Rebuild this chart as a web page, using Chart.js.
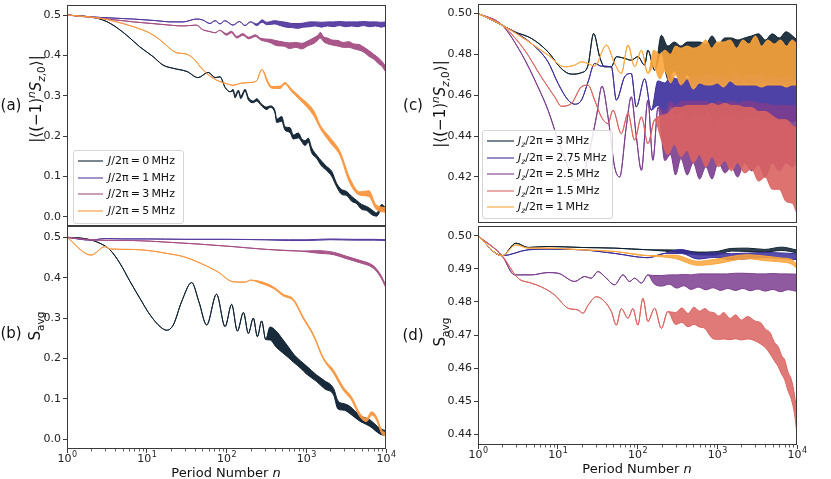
<!DOCTYPE html>
<html>
<head>
<meta charset="utf-8">
<script src="https://cdn.jsdelivr.net/npm/chart.js@4.4.1/dist/chart.umd.min.js"></script>
<style>
  body { margin: 0; background: #fff; }
  #fig { position: relative; width: 831px; height: 479px; overflow: hidden; font-family: 'DejaVu Sans', sans-serif; color: #111; }
  .panel { position: absolute; }
  .txt { position: absolute; white-space: nowrap; transform: translate(-50%, -50%); line-height: 1; }
  .rot { transform: translate(-50%, -50%) rotate(-90deg); }
  .plab { font-size: 15px; }
  .ytitle { font-size: 15px; }
  .xtitle { font-size: 13px; }
  sub, sup { font-size: 70%; line-height: 0; }
  .legend { position: absolute; border: 1px solid #d6d6d6; border-radius: 3px; background: rgba(255,255,255,0.85); font-size: 11px; }
  .legend .row { position: absolute; left: 0; height: 14px; line-height: 14px; white-space: nowrap; }
  .legend .ln { position: absolute; top: 6px; height: 0; border-top: 2px solid; }
  .legend .lt { position: absolute; top: 0; }
</style>
</head>
<body>
<div id="fig">
  <div class="panel" style="left:0px;top:0px"><canvas id="ca" width="400" height="236"></canvas></div>
  <div class="panel" style="left:0px;top:220px"><canvas id="cb" width="400" height="259"></canvas></div>
  <div class="panel" style="left:411px;top:0px"><canvas id="cc" width="400" height="230"></canvas></div>
  <div class="panel" style="left:411px;top:220px"><canvas id="cd" width="400" height="259"></canvas></div>

  <div class="txt plab" style="left:11px;top:105px">(a)</div>
  <div class="txt plab" style="left:11px;top:333px">(b)</div>
  <div class="txt plab" style="left:413px;top:105px">(c)</div>
  <div class="txt plab" style="left:413px;top:335px">(d)</div>

  <div class="txt rot ytitle" style="left:36px;top:99px">|⟨(−1)<sup><i>n</i></sup><i>S</i><sub><i>z</i>,0</sub>⟩|</div>
  <div class="txt rot ytitle" style="left:35px;top:326px">S<sub>avg</sub></div>
  <div class="txt rot ytitle" style="left:440px;top:104px">|⟨(−1)<sup><i>n</i></sup><i>S</i><sub><i>z</i>,0</sub>⟩|</div>
  <div class="txt rot ytitle" style="left:440px;top:332px">S<sub>avg</sub></div>

  <div class="txt xtitle" style="left:226px;top:472px">Period Number <i>n</i></div>
  <div class="txt xtitle" style="left:637px;top:468px">Period Number <i>n</i></div>

  <div class="legend" id="lega" style="left:73px;top:150px;width:109px;height:72px"></div>
  <div class="legend" id="legc" style="left:482px;top:130px;width:129px;height:87px"></div>
</div>
<script>
// ---- panel (a): staggered magnetization, J/2pi = 0, 1, 3, 5 MHz
// n = period number, y = value, w = half-width of the noisy band
const aJ0n = [1, 2.4, 3.5, 5.6, 8.2, 12, 16, 21.5, 32, 44, 59, 72, 83, 96, 111, 121, 128, 141, 151, 171, 188, 217, 239, 276, 319, 351, 406, 426, 492, 542, 626, 689, 796, 877, 964, 1062, 1170, 1352, 1561, 1804, 2084, 2407, 2781, 3213, 3710, 4287, 4953, 5722, 6610, 7637, 8822, 10000];
const aJ0y = [0.5, 0.492, 0.479, 0.45, 0.421, 0.397, 0.376, 0.368, 0.36, 0.345, 0.358, 0.345, 0.347, 0.321, 0.31, 0.314, 0.298, 0.312, 0.296, 0.314, 0.293, 0.285, 0.29, 0.277, 0.269, 0.273, 0.26, 0.238, 0.243, 0.219, 0.215, 0.198, 0.202, 0.19, 0.183, 0.19, 0.165, 0.149, 0.132, 0.12, 0.107, 0.079, 0.062, 0.058, 0.045, 0.037, 0.025, 0.021, 0.012, 0.006, 0.025, 0.016];
const aJ0w = [0, 0, 0, 0, 0, 0, 0, 0, 0, 0, 0, 0, 0, 0, 0, 0.002, 0.003, 0.002, 0.003, 0.002, 0.003, 0.002, 0.003, 0.002, 0.003, 0.002, 0.003, 0.004, 0.006, 0.004, 0.006, 0.005, 0.006, 0.004, 0.006, 0.005, 0.006, 0.004, 0.006, 0.005, 0.006, 0.004, 0.006, 0.005, 0.006, 0.004, 0.006, 0.005, 0.006, 0.004, 0.006, 0.005];

const aJ1n = [1, 2.6, 6.8, 13.3, 19.5, 28.7, 42, 50, 62, 72, 83, 95, 121, 145, 170, 200, 240, 280, 320, 400, 470, 560, 660, 780, 920, 1100, 1300, 1550, 1850, 2200, 2600, 3100, 3700, 4400, 5200, 6200, 7400, 8700, 10000];
const aJ1y = [0.5, 0.494, 0.49, 0.486, 0.483, 0.483, 0.49, 0.488, 0.479, 0.486, 0.478, 0.486, 0.475, 0.484, 0.474, 0.483, 0.476, 0.485, 0.479, 0.482, 0.479, 0.476, 0.474, 0.473, 0.475, 0.477, 0.478, 0.476, 0.478, 0.477, 0.479, 0.477, 0.478, 0.477, 0.479, 0.477, 0.478, 0.476, 0.478];
const aJ1w = [0, 0, 0, 0, 0, 0, 0, 0, 0, 0, 0, 0, 0, 0, 0, 0, 0.002, 0.003, 0.003, 0.004, 0.005, 0.006, 0.005, 0.006, 0.005, 0.006, 0.005, 0.006, 0.005, 0.006, 0.005, 0.006, 0.005, 0.006, 0.005, 0.006, 0.005, 0.006, 0.005];

const aJ3n = [1, 2.6, 6.8, 15, 28.7, 42, 50, 62, 72, 82, 100, 115, 135, 160, 190, 230, 270, 350, 430, 520, 620, 740, 880, 1050, 1250, 1400, 1500, 1650, 1850, 2100, 2500, 2900, 3400, 4000, 4600, 5300, 6100, 7000, 8000, 9000, 10000];
const aJ3y = [0.5, 0.492, 0.483, 0.477, 0.473, 0.475, 0.464, 0.459, 0.456, 0.462, 0.452, 0.458, 0.445, 0.452, 0.443, 0.449, 0.44, 0.436, 0.43, 0.428, 0.424, 0.426, 0.423, 0.43, 0.437, 0.444, 0.45, 0.44, 0.436, 0.432, 0.43, 0.426, 0.427, 0.422, 0.42, 0.414, 0.405, 0.397, 0.387, 0.378, 0.365];
const aJ3w = [0, 0, 0, 0, 0, 0, 0, 0, 0, 0, 0.002, 0.002, 0.002, 0.002, 0.002, 0.002, 0.002, 0.004, 0.006, 0.005, 0.007, 0.006, 0.007, 0.006, 0.007, 0.006, 0.007, 0.006, 0.007, 0.006, 0.007, 0.006, 0.007, 0.006, 0.007, 0.006, 0.007, 0.006, 0.007, 0.006, 0.007];

const aJ5n = [1, 2.6, 4.2, 6.8, 11, 14.8, 19.5, 23.5, 31.7, 38.7, 46.9, 56.8, 68.9, 83, 100, 121, 150, 200, 240, 276, 300, 320, 370, 470, 540, 650, 840, 1250, 1500, 2000, 2650, 3500, 4700, 6100, 7500, 10000];
const aJ5y = [0.5, 0.492, 0.483, 0.471, 0.455, 0.438, 0.417, 0.407, 0.403, 0.392, 0.372, 0.355, 0.343, 0.335, 0.33, 0.326, 0.331, 0.333, 0.338, 0.365, 0.355, 0.339, 0.321, 0.321, 0.331, 0.314, 0.293, 0.256, 0.223, 0.19, 0.157, 0.091, 0.058, 0.058, 0.025, 0.017];
const aJ5w = [0, 0, 0, 0, 0, 0, 0, 0, 0, 0, 0, 0, 0, 0, 0, 0, 0, 0, 0, 0, 0.002, 0.003, 0.002, 0.003, 0.002, 0.003, 0.004, 0.006, 0.004, 0.006, 0.005, 0.006, 0.004, 0.007, 0.005, 0.006];

// ---- panel (b): S_avg, same couplings
const bJ0n = [1, 1.76, 2.6, 3.46, 4.6, 6.2, 8.2, 11, 14.7, 17.8, 21.5, 27.4, 36.6, 45, 56.4, 75, 96, 116, 137, 163, 188, 217, 244, 276, 310, 351, 420, 500, 600, 700, 850, 1000, 1350, 1700, 2200, 2500, 3000, 3500, 4700, 6300, 8400, 10000];
const bJ0y = [0.5, 0.496, 0.485, 0.469, 0.436, 0.39, 0.349, 0.308, 0.279, 0.27, 0.283, 0.341, 0.388, 0.341, 0.283, 0.359, 0.279, 0.334, 0.268, 0.314, 0.262, 0.3, 0.254, 0.293, 0.247, 0.262, 0.248, 0.232, 0.215, 0.2, 0.185, 0.172, 0.151, 0.135, 0.118, 0.085, 0.08, 0.073, 0.052, 0.04, 0.02, 0.015];
const bJ0w = [0, 0, 0, 0, 0, 0, 0, 0, 0, 0, 0, 0, 0, 0, 0, 0, 0, 0, 0, 0, 0, 0, 0, 0, 0, 0.016, 0.02, 0.017, 0.013, 0.01, 0.009, 0.01, 0.008, 0.01, 0.008, 0.01, 0.008, 0.009, 0.007, 0.008, 0.007, 0.006];

const bJ1n = [1, 2, 3, 5, 10, 30, 100, 300, 600, 1000, 2000, 4000, 7000, 10000];
const bJ1y = [0.5, 0.493, 0.497, 0.496, 0.496, 0.495, 0.495, 0.494, 0.493, 0.493, 0.495, 0.494, 0.494, 0.493];
const bJ1w = [0, 0, 0, 0, 0, 0, 0, 0, 0.001, 0.001, 0.001, 0.001, 0.001, 0.001];

const bJ3n = [1, 2.3, 6.8, 18, 47, 120, 320, 830, 1350, 2200, 3200, 4700, 6900, 8400, 10000];
const bJ3y = [0.5, 0.493, 0.492, 0.488, 0.483, 0.477, 0.47, 0.466, 0.464, 0.46, 0.45, 0.44, 0.427, 0.407, 0.378];
const bJ3w = [0, 0, 0, 0, 0, 0, 0, 0, 0.003, 0.003, 0.003, 0.003, 0.003, 0.003, 0.003];

const bJ5n = [1, 2, 3, 3.5, 6.8, 11.8, 18, 29, 47, 77, 121, 170, 200, 263, 390, 515, 690, 920, 1230, 1640, 2200, 2900, 3700, 4700, 5700, 6600, 7600, 8800, 10000];
const bJ5y = [0.5, 0.456, 0.477, 0.471, 0.47, 0.466, 0.46, 0.452, 0.436, 0.415, 0.39, 0.389, 0.394, 0.389, 0.375, 0.357, 0.345, 0.3, 0.258, 0.2, 0.167, 0.126, 0.101, 0.06, 0.048, 0.064, 0.052, 0.019, 0.012];
const bJ5w = [0, 0, 0, 0, 0, 0, 0, 0, 0, 0, 0, 0, 0, 0.002, 0.002, 0.002, 0.002, 0.002, 0.002, 0.002, 0.004, 0.004, 0.004, 0.004, 0.004, 0.004, 0.004, 0.004, 0.004];

// ---- panel (c): staggered magnetization, Jz/2pi = 3, 2.75, 2.5, 1.5, 1 MHz
const cJ3n = [1, 2, 2.88, 4.66, 7.55, 11.1, 14.8, 19.8, 24, 28.2, 33.5, 38.7, 47, 54.3, 69, 83.5, 101, 123, 135, 164, 199, 240, 290, 350, 420, 500, 600, 720, 860, 1030, 1250, 1500, 1800, 2200, 2700, 3300, 4000, 4900, 6000, 7300, 8800, 10000];
const cJ3y = [0.5, 0.4943, 0.491, 0.4878, 0.4812, 0.473, 0.4703, 0.471, 0.4747, 0.4902, 0.4788, 0.4739, 0.4739, 0.4788, 0.478, 0.4771, 0.4788, 0.4747, 0.482, 0.4722, 0.4853, 0.476, 0.479, 0.475, 0.478, 0.476, 0.477, 0.475, 0.478, 0.476, 0.477, 0.478, 0.476, 0.478, 0.477, 0.479, 0.477, 0.478, 0.477, 0.479, 0.478, 0.477];
const cJ3w = [0, 0, 0, 0, 0, 0, 0, 0, 0, 0, 0, 0, 0, 0, 0, 0, 0, 0, 0, 0, 0.004, 0.008, 0.007, 0.009, 0.008, 0.01, 0.009, 0.01, 0.011, 0.009, 0.011, 0.01, 0.011, 0.01, 0.012, 0.011, 0.01, 0.012, 0.011, 0.012, 0.011, 0.01];

const cJ275n = [1, 2, 4.66, 7.55, 10.1, 13.5, 16.3, 19.8, 24, 29, 35.2, 47, 54.3, 69, 83.5, 96.5, 123, 149, 180, 220, 260, 310, 370, 440, 530, 640, 770, 920, 1100, 1350, 1650, 2000, 2400, 2900, 3500, 4200, 5100, 6200, 7500, 9000, 10000];
const cJ275y = [0.5, 0.4943, 0.4853, 0.4763, 0.4657, 0.4576, 0.4556, 0.4576, 0.4665, 0.4755, 0.4742, 0.4739, 0.4576, 0.469, 0.4706, 0.4543, 0.468, 0.4527, 0.461, 0.458, 0.462, 0.459, 0.461, 0.458, 0.46, 0.459, 0.461, 0.458, 0.46, 0.459, 0.461, 0.458, 0.46, 0.459, 0.46, 0.458, 0.459, 0.458, 0.459, 0.457, 0.458];
const cJ275w = [0, 0, 0, 0, 0, 0, 0, 0, 0, 0, 0, 0, 0, 0, 0, 0, 0, 0, 0.006, 0.008, 0.007, 0.009, 0.008, 0.01, 0.009, 0.01, 0.009, 0.011, 0.01, 0.009, 0.011, 0.01, 0.011, 0.01, 0.011, 0.01, 0.011, 0.01, 0.011, 0.01, 0.01];

const cJ25n = [1, 2, 3.5, 5.65, 7.55, 10.1, 13.5, 16.3, 19.8, 24, 30.5, 35.9, 42.7, 51.7, 59.7, 72.3, 83.5, 96.5, 112, 135, 156, 181, 220, 260, 300, 350, 420, 500, 600, 720, 860, 1030, 1250, 1500, 1800, 2200, 2700, 3300, 4000, 4900, 6000, 7300, 8800, 10000];
const cJ25y = [0.5, 0.4943, 0.4804, 0.4641, 0.4527, 0.438, 0.4249, 0.4184, 0.4192, 0.4298, 0.4494, 0.4644, 0.4494, 0.4249, 0.42, 0.4445, 0.4592, 0.44, 0.4233, 0.4576, 0.4282, 0.454, 0.44, 0.444, 0.438, 0.443, 0.439, 0.442, 0.438, 0.441, 0.437, 0.442, 0.439, 0.441, 0.438, 0.442, 0.44, 0.441, 0.438, 0.441, 0.439, 0.441, 0.44, 0.441];
const cJ25w = [0, 0, 0, 0, 0, 0, 0, 0, 0, 0, 0, 0, 0, 0, 0, 0, 0, 0, 0, 0, 0, 0, 0.012, 0.013, 0.017, 0.014, 0.018, 0.015, 0.019, 0.016, 0.018, 0.015, 0.017, 0.016, 0.018, 0.015, 0.017, 0.015, 0.018, 0.014, 0.016, 0.014, 0.015, 0.013];

const cJ15n = [1, 2, 3.85, 6.2, 9.15, 11.1, 14.8, 19.8, 24, 29, 35.2, 42.7, 49.3, 62.6, 76, 92, 112, 135, 164, 200, 240, 290, 350, 420, 500, 600, 720, 860, 1030, 1250, 1500, 1800, 2200, 2700, 3300, 4000, 4900, 6000, 7300, 8800, 10000];
const cJ15y = [0.5, 0.4943, 0.482, 0.469, 0.4592, 0.4546, 0.4559, 0.4641, 0.4649, 0.4576, 0.4494, 0.4461, 0.4527, 0.4412, 0.451, 0.438, 0.4494, 0.4363, 0.448, 0.444, 0.441, 0.445, 0.442, 0.444, 0.441, 0.443, 0.44, 0.443, 0.44, 0.442, 0.439, 0.441, 0.438, 0.439, 0.435, 0.436, 0.432, 0.431, 0.428, 0.426, 0.423];
const cJ15w = [0, 0, 0, 0, 0, 0, 0, 0, 0, 0, 0, 0, 0, 0, 0, 0, 0, 0, 0, 0.006, 0.01, 0.009, 0.012, 0.011, 0.014, 0.012, 0.015, 0.013, 0.015, 0.014, 0.016, 0.014, 0.016, 0.015, 0.017, 0.016, 0.018, 0.017, 0.02, 0.019, 0.021];

const cJ1n = [1, 2, 4.66, 7.55, 12.2, 16.3, 19.8, 24, 29, 40.7, 51.7, 62.6, 76, 92, 112, 135, 160, 190, 220, 260, 300, 350, 420, 500, 600, 720, 850, 1000, 1200, 1450, 1750, 2100, 2500, 3000, 3600, 4300, 5200, 6200, 7400, 8700, 10000];
const cJ1y = [0.5, 0.4943, 0.4853, 0.4796, 0.4739, 0.4747, 0.4763, 0.4755, 0.4742, 0.4845, 0.4755, 0.4706, 0.4845, 0.4739, 0.482, 0.4706, 0.478, 0.474, 0.477, 0.473, 0.477, 0.474, 0.476, 0.473, 0.475, 0.476, 0.474, 0.476, 0.475, 0.477, 0.474, 0.476, 0.475, 0.477, 0.474, 0.476, 0.475, 0.476, 0.474, 0.476, 0.475];
const cJ1w = [0, 0, 0, 0, 0, 0, 0, 0, 0, 0, 0, 0, 0, 0, 0, 0, 0.004, 0.006, 0.005, 0.007, 0.007, 0.009, 0.008, 0.01, 0.009, 0.011, 0.009, 0.01, 0.011, 0.01, 0.009, 0.011, 0.01, 0.012, 0.01, 0.011, 0.01, 0.011, 0.01, 0.011, 0.01];

// ---- panel (d): S_avg, same Jz values
const dJ3n = [1, 2, 3, 4.24, 7.55, 19.8, 51.7, 135, 354, 573, 930, 1500, 2400, 3930, 6400, 10000];
const dJ3y = [0.5, 0.494, 0.4978, 0.4965, 0.4968, 0.4965, 0.4963, 0.4958, 0.4953, 0.4947, 0.4947, 0.4958, 0.4958, 0.4955, 0.4961, 0.4953];
const dJ3w = [0, 0, 0, 0, 0, 0, 0, 0, 0.0004, 0.0004, 0.0005, 0.0004, 0.0005, 0.0004, 0.0005, 0.0004];

const dJ275n = [1, 2, 4.24, 7.55, 19.8, 51.7, 135, 218, 354, 573, 930, 1500, 3930, 10000];
const dJ275y = [0.5, 0.494, 0.4958, 0.496, 0.4958, 0.4947, 0.4934, 0.4947, 0.4953, 0.4938, 0.4942, 0.4937, 0.4942, 0.4937];
const dJ275w = [0, 0, 0, 0, 0, 0, 0, 0, 0.0006, 0.0008, 0.0007, 0.0009, 0.0008, 0.0009];

const dJ25n = [1, 2, 2.88, 4.66, 7.55, 10.1, 16.3, 21.7, 26.3, 31.9, 38.7, 51.7, 65.8, 79.7, 92, 112, 135, 160, 200, 250, 310, 380, 470, 580, 720, 890, 1100, 1350, 1700, 2100, 2600, 3200, 4000, 5000, 6200, 7700, 10000];
const dJ25y = [0.5, 0.494, 0.4882, 0.4882, 0.4889, 0.4887, 0.4862, 0.4877, 0.4872, 0.4892, 0.4877, 0.4852, 0.4882, 0.4862, 0.4872, 0.4857, 0.4882, 0.4868, 0.4864, 0.4868, 0.4862, 0.4866, 0.486, 0.4865, 0.4861, 0.4864, 0.486, 0.4863, 0.4861, 0.4864, 0.486, 0.4862, 0.4859, 0.4862, 0.4858, 0.4861, 0.4858];
const dJ25w = [0, 0, 0, 0, 0, 0, 0, 0, 0, 0, 0, 0, 0, 0, 0, 0, 0, 0.0012, 0.0016, 0.0014, 0.002, 0.0017, 0.0022, 0.002, 0.0024, 0.0021, 0.0025, 0.0022, 0.0026, 0.0023, 0.0026, 0.0023, 0.0026, 0.0024, 0.0027, 0.0024, 0.0026];

const dJ15n = [1, 2, 3.18, 4.66, 6.2, 9.15, 13.5, 17.9, 20.7, 24, 30.5, 38.7, 47, 54.3, 62.6, 76, 87.7, 101, 117, 135, 164, 199, 240, 300, 360, 430, 510, 600, 700, 800, 900, 1050, 1200, 1450, 1700, 2000, 2400, 3000, 3500, 4000, 4600, 5200, 5800, 6400, 7000, 7700, 8500, 9300, 10000];
const dJ15y = [0.5, 0.494, 0.4872, 0.4857, 0.4846, 0.4821, 0.4781, 0.4776, 0.4766, 0.479, 0.4816, 0.4801, 0.4771, 0.473, 0.478, 0.4751, 0.478, 0.473, 0.4811, 0.4741, 0.4781, 0.472, 0.4771, 0.475, 0.476, 0.4745, 0.4758, 0.4748, 0.475, 0.4735, 0.4728, 0.4722, 0.4728, 0.4718, 0.4725, 0.4715, 0.4722, 0.4712, 0.4705, 0.469, 0.4675, 0.465, 0.4635, 0.461, 0.4595, 0.456, 0.4535, 0.449, 0.443];
const dJ15w = [0, 0, 0, 0, 0, 0, 0, 0, 0, 0, 0, 0, 0, 0, 0, 0, 0, 0, 0, 0, 0, 0, 0, 0.0018, 0.0022, 0.002, 0.0026, 0.0024, 0.003, 0.0035, 0.004, 0.0035, 0.004, 0.0032, 0.0036, 0.003, 0.0034, 0.003, 0.0032, 0.0028, 0.0032, 0.0028, 0.003, 0.0028, 0.003, 0.0028, 0.003, 0.0028, 0.003];

const dJ1n = [1, 2, 3, 4.24, 7.55, 19.8, 51.7, 135, 290, 573, 930, 2400, 3930, 6400, 8500, 10000];
const dJ1y = [0.5, 0.494, 0.4973, 0.4963, 0.4963, 0.4958, 0.4953, 0.494, 0.4937, 0.4917, 0.4922, 0.4937, 0.4932, 0.4927, 0.4922, 0.4907];
const dJ1w = [0, 0, 0, 0, 0, 0, 0, 0, 0.0005, 0.0006, 0.0007, 0.0006, 0.0007, 0.0006, 0.0007, 0.0006];

// ticks and labels
const xTicks = [1, 10, 100, 1000, 10000];
const abTicks = [0, 0.1, 0.2, 0.3, 0.4, 0.5];
const cTicks = [0.42, 0.44, 0.46, 0.48, 0.50];
const dTicks = [0.44, 0.45, 0.46, 0.47, 0.48, 0.49, 0.50];

const legendA = ['<i>J</i>/2π\u2009=\u20090\u2009MHz', '<i>J</i>/2π\u2009=\u20091\u2009MHz', '<i>J</i>/2π\u2009=\u20093\u2009MHz', '<i>J</i>/2π\u2009=\u20095\u2009MHz'];
const legendC = ['<i>J<sub>z</sub></i>/2π\u2009=\u20093\u2009MHz', '<i>J<sub>z</sub></i>/2π\u2009=\u20092.75\u2009MHz', '<i>J<sub>z</sub></i>/2π\u2009=\u20092.5\u2009MHz', '<i>J<sub>z</sub></i>/2π\u2009=\u20091.5\u2009MHz', '<i>J<sub>z</sub></i>/2π\u2009=\u20091\u2009MHz'];

const colAB = ['#0d2030', '#553a9f', '#a44e84', '#f9963f'];
const colCD = ['#0d2030', '#3b2e9c', '#7b3d8e', '#da6360', '#fca53b'];

Chart.defaults.font.family = "'DejaVu Sans', sans-serif";
Chart.defaults.font.size = 11;
Chart.defaults.color = '#222';

function withAlpha(hex, a) {
  const r = parseInt(hex.slice(1, 3), 16), g = parseInt(hex.slice(3, 5), 16), b = parseInt(hex.slice(5, 7), 16);
  return 'rgba(' + r + ',' + g + ',' + b + ',' + a + ')';
}

// frame on all four sides, like matplotlib spines
const framePlugin = {
  id: 'frame',
  afterDraw(chart) {
    const { ctx, chartArea: a } = chart;
    ctx.save();
    ctx.strokeStyle = '#3a3a3a';
    ctx.lineWidth = 1;
    ctx.strokeRect(Math.round(a.left) + 0.5, Math.round(a.top) + 0.5,
      Math.round(a.right - a.left) - 1, Math.round(a.bottom - a.top) - 1);
    ctx.restore();
  }
};

// minor ticks + "10^k" labels with a real raised exponent
const logAxisPlugin = {
  id: 'logAxis',
  afterDraw(chart, args, opts) {
    if (!opts.show) return;
    const { ctx, chartArea: a, scales } = chart;
    ctx.save();
    ctx.strokeStyle = '#3a3a3a';
    ctx.lineWidth = 0.8;
    ctx.beginPath();
    for (let k = 0; k < 4; k++) {
      for (let m = 2; m < 10; m++) {
        const px = Math.round(scales.x.getPixelForValue(m * Math.pow(10, k))) + 0.5;
        ctx.moveTo(px, a.bottom);
        ctx.lineTo(px, a.bottom + 2.5);
      }
    }
    ctx.stroke();
    ctx.fillStyle = '#222';
    ctx.textBaseline = 'alphabetic';
    xTicks.forEach(v => {
      const px = scales.x.getPixelForValue(v);
      const e = String(Math.round(Math.log10(v)));
      ctx.font = "11px 'DejaVu Sans'";
      const w1 = ctx.measureText('10').width;
      ctx.font = "8px 'DejaVu Sans'";
      const w2 = ctx.measureText(e).width;
      const x0 = px - (w1 + w2) / 2;
      ctx.font = "11px 'DejaVu Sans'";
      ctx.fillText('10', x0, a.bottom + 13);
      ctx.font = "8px 'DejaVu Sans'";
      ctx.fillText(e, x0 + w1 + 0.5, a.bottom + 8);
    });
    ctx.restore();
  }
};

function buildDatasets(series, colors, fillAlpha) {
  const ds = [];
  const total = series.length;
  series.forEach((s, k) => {
    const lo = s.n.map((n, i) => ({ x: n, y: s.y[i] - (s.w[i] || 0) }));
    const hi = s.n.map((n, i) => ({ x: n, y: s.y[i] + (s.w[i] || 0) }));
    ds.push({ data: lo, borderColor: colors[k], borderWidth: 1, fill: false, order: total - k });
    ds.push({ data: hi, borderColor: colors[k], backgroundColor: withAlpha(colors[k], fillAlpha),
      borderWidth: 1, fill: '-1', order: total - k });
  });
  return ds;
}

function makePanel(id, series, colors, cfg) {
  return new Chart(document.getElementById(id), {
    type: 'line',
    data: { datasets: buildDatasets(series, colors, cfg.fillAlpha) },
    options: {
      responsive: false,
      animation: false,
      layout: { padding: { top: cfg.padTop, right: 14, left: 0, bottom: 0 } },
      elements: { point: { radius: 0 }, line: { cubicInterpolationMode: 'monotone' } },
      plugins: { legend: { display: false }, tooltip: { enabled: false }, logAxis: { show: cfg.showX } },
      scales: {
        x: {
          type: 'logarithmic', min: 1, max: 10000,
          afterBuildTicks: s => { s.ticks = xTicks.map(v => ({ value: v })); },
          ticks: { display: false },
          grid: { display: cfg.showX, drawOnChartArea: false, tickLength: 4, color: '#3a3a3a' },
          border: { display: false },
          afterFit: s => { s.height = cfg.xh; s.paddingLeft = 0; s.paddingRight = 0; }
        },
        y: {
          type: 'linear', min: cfg.ymin, max: cfg.ymax,
          afterBuildTicks: s => { s.ticks = cfg.yTicks.map(v => ({ value: v })); },
          ticks: { padding: 2, callback: v => Number(v).toFixed(cfg.dec) },
          grid: { drawOnChartArea: false, tickLength: 4, color: '#3a3a3a' },
          border: { display: false },
          afterFit: s => { s.width = 67; s.paddingTop = 0; s.paddingBottom = 0; }
        }
      }
    },
    plugins: [framePlugin, logAxisPlugin]
  });
}

makePanel('ca', [
  { n: aJ0n, y: aJ0y, w: aJ0w }, { n: aJ1n, y: aJ1y, w: aJ1w },
  { n: aJ3n, y: aJ3y, w: aJ3w }, { n: aJ5n, y: aJ5y, w: aJ5w }
], colAB, { padTop: 5, xh: 10, ymin: -0.0223, ymax: 0.5248, yTicks: abTicks, dec: 1, showX: false, fillAlpha: 0.95 });

makePanel('cb', [
  { n: bJ0n, y: bJ0y, w: bJ0w }, { n: bJ1n, y: bJ1y, w: bJ1w },
  { n: bJ3n, y: bJ3y, w: bJ3w }, { n: bJ5n, y: bJ5y, w: bJ5w }
], colAB, { padTop: 6, xh: 30, ymin: -0.024, ymax: 0.528, yTicks: abTicks, dec: 1, showX: true, fillAlpha: 0.95 });

makePanel('cc', [
  { n: cJ3n, y: cJ3y, w: cJ3w }, { n: cJ275n, y: cJ275y, w: cJ275w },
  { n: cJ25n, y: cJ25y, w: cJ25w }, { n: cJ15n, y: cJ15y, w: cJ15w },
  { n: cJ1n, y: cJ1y, w: cJ1w }
], colCD, { padTop: 4, xh: 7, ymin: 0.3975, ymax: 0.5046, yTicks: cTicks, dec: 2, showX: false, fillAlpha: 0.9 });

makePanel('cd', [
  { n: dJ3n, y: dJ3y, w: dJ3w }, { n: dJ275n, y: dJ275y, w: dJ275w },
  { n: dJ25n, y: dJ25y, w: dJ25w }, { n: dJ15n, y: dJ15y, w: dJ15w },
  { n: dJ1n, y: dJ1y, w: dJ1w }
], colCD, { padTop: 6, xh: 34, ymin: 0.4367, ymax: 0.503, yTicks: dTicks, dec: 2, showX: true, fillAlpha: 0.85 });

// matplotlib-style legends (lines drawn faded like the original)
function fillLegend(id, labels, colors, rowStep, firstRow, lineLen, textX) {
  const box = document.getElementById(id);
  labels.forEach((lab, i) => {
    const row = document.createElement('div');
    row.className = 'row';
    row.style.top = (firstRow + i * rowStep - 7) + 'px';
    row.innerHTML = '<span class="ln" style="left:4px;width:' + lineLen + 'px;border-color:' + colors[i] + ';opacity:0.55"></span>' +
      '<span class="lt" style="left:' + textX + 'px">' + lab + '</span>';
    box.appendChild(row);
  });
}
fillLegend('lega', legendA, colAB, 16.7, 10, 25, 34);
fillLegend('legc', legendC, colCD, 16.6, 10, 27, 35);
</script>
</body>
</html>
